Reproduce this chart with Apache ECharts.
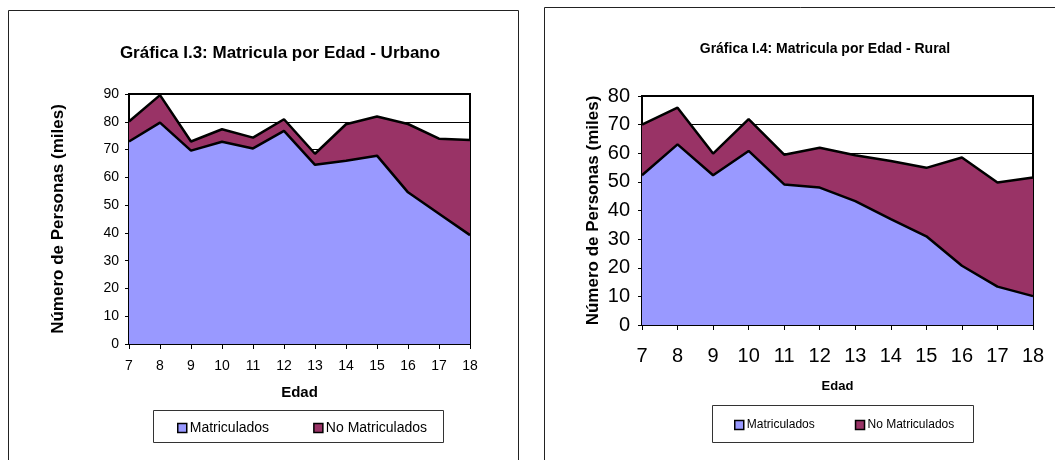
<!DOCTYPE html>
<html>
<head>
<meta charset="utf-8">
<script src="https://cdn.jsdelivr.net/npm/echarts@6/dist/echarts.min.js"></script>
<style>
  html, body { margin: 0; padding: 0; background: #fff; }
  #chart { width: 1055px; height: 460px; }
</style>
</head>
<body>
<div id="chart"></div>
<script>
// edades (eje X)
const edades = ['7', '8', '9', '10', '11', '12', '13', '14', '15', '16', '17', '18'];

// Urbano (miles)
const urbanoMatriculados = [72.9, 79.7, 69.6, 72.8, 70.4, 76.7, 64.5, 66.0, 67.8, 54.6, 46.9, 39.2];
const urbanoNoMatriculados = [7.2, 9.9, 3.3, 4.5, 3.9, 4.2, 4.0, 13.1, 14.1, 24.6, 27.0, 34.2];

// Rural (miles)
const ruralMatriculados = [52.3, 63.1, 52.3, 60.8, 49.1, 48.0, 43.3, 37.0, 31.0, 20.7, 13.4, 10.1];
const ruralNoMatriculados = [17.7, 12.8, 7.6, 11.1, 10.4, 13.9, 16.0, 20.3, 23.9, 37.8, 36.4, 41.4];

const nombres = ['Matriculados', 'No Matriculados'];
const colorMat = '#9999FF';
const colorNoMat = '#993366';
const fuente = '"Liberation Sans", Arial, sans-serif';

const chartDom = document.getElementById('chart');
const myChart = echarts.init(chartDom, null, { renderer: 'canvas' });

const ejeX = (idx, labelSize, labelMargin, nameSize, nameGap) => ({
    type: 'category',
    gridIndex: idx,
    data: edades,
    boundaryGap: false,
    axisLine: { lineStyle: { color: '#000', width: 2 } },
    axisTick: { show: true, length: 5, lineStyle: { color: '#000', width: 1 } },
    axisLabel: { color: '#000', fontSize: labelSize, margin: labelMargin, fontFamily: fuente },
    name: 'Edad',
    nameLocation: 'middle',
    nameGap: nameGap,
    nameTextStyle: { color: '#000', fontWeight: 'bold', fontSize: nameSize, fontFamily: fuente }
});

const ejeY = (idx, max, labelSize, labelMargin, nameGap) => ({
    type: 'value',
    gridIndex: idx,
    min: 0,
    max: max,
    interval: 10,
    axisLine: { show: true, lineStyle: { color: '#000', width: 2 } },
    axisTick: { show: true, length: 4, lineStyle: { color: '#000', width: 1 } },
    axisLabel: { color: '#000', fontSize: labelSize, margin: labelMargin, fontFamily: fuente },
    splitLine: { show: true, lineStyle: { color: '#000', width: 1 } },
    name: 'Número de Personas (miles)',
    nameLocation: 'middle',
    nameGap: nameGap,
    nameTextStyle: { color: '#000', fontWeight: 'bold', fontSize: 17, fontFamily: fuente }
});

const area = (name, stack, idx, data, color) => ({
    name: name,
    type: 'line',
    stack: stack,
    xAxisIndex: idx,
    yAxisIndex: idx,
    data: data,
    symbol: 'none',
    lineStyle: { color: '#000', width: 2.5 },
    itemStyle: { color: color },
    areaStyle: { color: color, opacity: 1 },
    emphasis: { disabled: true }
});

const leyenda = (left, top, fontSize, gap) => ({
    left: left,
    top: top,
    padding: 0,
    itemGap: gap,
    itemWidth: 9,
    itemHeight: 9,
    icon: 'rect',
    selectedMode: false,
    itemStyle: { borderColor: '#000', borderWidth: 1.5 },
    textStyle: { color: '#000', fontSize: fontSize, fontFamily: fuente, padding: [0, 0, 0, -2] },
    data: nombres
});

const option = {
    animation: false,
    backgroundColor: '#fff',
    title: [
        {
            text: 'Gráfica I.3: Matricula por Edad - Urbano',
            left: 280,
            top: 45,
            textAlign: 'center',
            padding: 0,
            textStyle: { color: '#000', fontWeight: 'bold', fontSize: 17, fontFamily: fuente }
        },
        {
            text: 'Gráfica I.4: Matricula por Edad - Rural',
            left: 825,
            top: 42,
            textAlign: 'center',
            padding: 0,
            textStyle: { color: '#000', fontWeight: 'bold', fontSize: 14, fontFamily: fuente }
        }
    ],
    grid: [
        { left: 129, top: 94, width: 341, height: 250, show: true, borderColor: '#000', borderWidth: 2, backgroundColor: '#fff' },
        { left: 642, top: 96, width: 391, height: 229, show: true, borderColor: '#000', borderWidth: 2, backgroundColor: '#fff' }
    ],
    xAxis: [
        ejeX(0, 14, 15, 15, 41),
        ejeX(1, 20, 21, 13, 55)
    ],
    yAxis: [
        ejeY(0, 90, 14, 10, 62),
        ejeY(1, 80, 20, 12, 40)
    ],
    legend: [
        leyenda(177, 421, 14, 44),
        leyenda(734, 419, 12, 40)
    ],
    graphic: [
        { type: 'rect', silent: true, z: -1, shape: { x: 8.5, y: 10.5, width: 510, height: 470 }, style: { fill: 'transparent', stroke: '#222', lineWidth: 1 } },
        { type: 'rect', silent: true, z: -1, shape: { x: 544.5, y: 7.5, width: 530, height: 470 }, style: { fill: 'transparent', stroke: '#222', lineWidth: 1 } },
        { type: 'rect', silent: true, z: -1, shape: { x: 153.5, y: 410.5, width: 290, height: 32 }, style: { fill: 'transparent', stroke: '#333', lineWidth: 1 } },
        { type: 'rect', silent: true, z: -1, shape: { x: 712.5, y: 405.5, width: 261, height: 37 }, style: { fill: 'transparent', stroke: '#333', lineWidth: 1 } }
    ],
    series: [
        area(nombres[0], 'urbano', 0, urbanoMatriculados, colorMat),
        area(nombres[1], 'urbano', 0, urbanoNoMatriculados, colorNoMat),
        area(nombres[0], 'rural', 1, ruralMatriculados, colorMat),
        area(nombres[1], 'rural', 1, ruralNoMatriculados, colorNoMat)
    ]
};

option && myChart.setOption(option);
</script>
</body>
</html>
